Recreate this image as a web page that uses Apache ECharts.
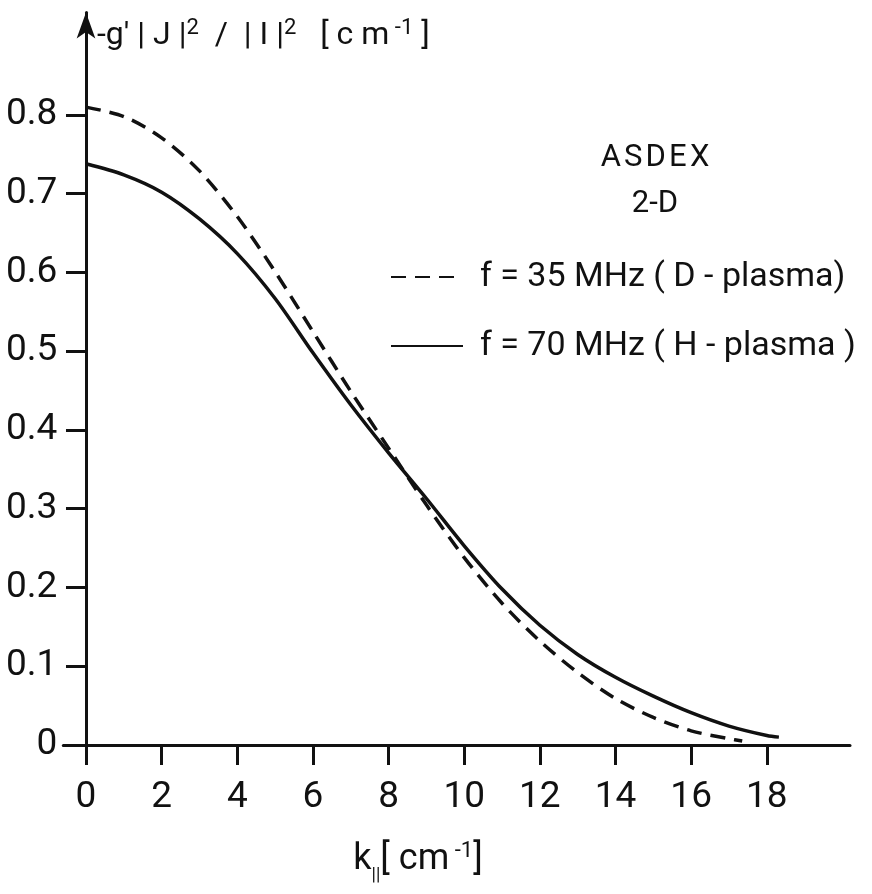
<!DOCTYPE html>
<html><head><meta charset="utf-8">
<script src="https://cdn.jsdelivr.net/npm/echarts@6/dist/echarts.min.js"></script>
<style>html,body{margin:0;padding:0;background:#fff}#c{width:872px;height:894px}</style>
</head><body><div id="c"></div>
<script>
// k_parallel [cm^-1]
const kD = [0,1,2,3,4,5,6,7,8,9,10,11,12,13,14,15,16,17,17.35];
const valD = [0.810,0.798,0.771,0.729,0.671,0.601,0.525,0.449,0.377,0.305,0.238,0.180,0.132,0.092,0.059,0.035,0.018,0.008,0.005];
const kH = [0,1,2,3,4,5,6,7,8,9,10,11,12,13,14,15,16,17,18,18.32];
const valH = [0.738,0.724,0.702,0.668,0.624,0.567,0.498,0.432,0.371,0.313,0.253,0.198,0.152,0.115,0.086,0.062,0.041,0.024,0.012,0.010];
const xTicks = [0,2,4,6,8,10,12,14,16,18];
const yTicks = [0,0.1,0.2,0.3,0.4,0.5,0.6,0.7,0.8];
const nameD = 'f = 35 MHz ( D - plasma)';
const nameH = 'f = 70 MHz ( H - plasma )';

const FONT = 'Roboto,"Liberation Sans",sans-serif';
const chart = echarts.init(document.getElementById('c'));
chart.setOption({
  animation:false,
  backgroundColor:'#fff',
  grid:{left:63.3, right:22, top:12.6, bottom:149, containLabel:false, outerBoundsMode:'none'},
  xAxis:{type:'value', min:-0.6, max:20.2,
    axisLine:{lineStyle:{color:'#111', width:3}},
    axisTick:{show:true, length:20, lineStyle:{color:'#111', width:3}, customValues:xTicks},
    axisLabel:{customValues:xTicks, margin:34, color:'#111', fontSize:37, fontFamily:FONT},
    splitLine:{show:false}},
  yAxis:{type:'value', min:0, max:0.93,
    axisLine:{show:true, onZero:true, symbol:['none','arrow'], symbolSize:[14,26], lineStyle:{color:'#111', width:3}},
    axisTick:{show:true, length:20, lineStyle:{color:'#111', width:3}, customValues:yTicks},
    axisLabel:{customValues:yTicks, margin:6, color:'#111', fontSize:37, fontFamily:FONT,
      formatter:v=> v===0 ? '0' : v.toFixed(1)},
    splitLine:{show:false}},
  legend:{orient:'vertical', left:385, top:255, itemWidth:72, itemHeight:14, itemGap:35,
    itemStyle:{opacity:0},
    textStyle:{fontSize:34, fontFamily:FONT, color:'#111', padding:[0,0,0,12]},
    data:[nameD, nameH]},
  graphic:[
    {type:'text', left:97, top:17, style:{rich:{
        a:{fontSize:32, fontFamily:FONT, fill:'#111'},
        s:{fontSize:22, fontFamily:FONT, fill:'#111', padding:[0,0,16,0]}},
      text:"{a|-g' | J |}{s|2}{a|  /  | I |}{s|2}{a|   [ c m}{s| -1}{a| ]}"}},
    {type:'text', x:418, y:836, style:{align:'center', rich:{
        a:{fontSize:36, fontFamily:FONT, fill:'#111'},
        b:{fontSize:18, fontFamily:FONT, fill:'#111', padding:[30,0,0,0]},
        s:{fontSize:22, fontFamily:FONT, fill:'#111', padding:[0,0,18,0]}},
      text:"{a|k}{b|||}{a|[ cm}{s| -1}{a|]}"}},
    {type:'text', x:655, y:143, style:{text:'A\u200aS\u200aD\u200aE\u200aX', fontSize:31, fontFamily:FONT, fill:'#111', align:'center'}},
    {type:'text', x:655, y:189, style:{text:'2-D', fontSize:31, fontFamily:FONT, fill:'#111', align:'center'}}
  ],
  series:[
    {name:nameD, type:'line', smooth:0.3, symbol:'none', data:kD.map((k,i)=>[k,valD[i]]),
      lineStyle:{color:'#111', width:3.5, type:[15,9]}, itemStyle:{color:'#111'}},
    {name:nameH, type:'line', smooth:0.3, symbol:'none', data:kH.map((k,i)=>[k,valH[i]]),
      lineStyle:{color:'#111', width:3.5}, itemStyle:{color:'#111'}}
  ]
});
</script></body></html>
